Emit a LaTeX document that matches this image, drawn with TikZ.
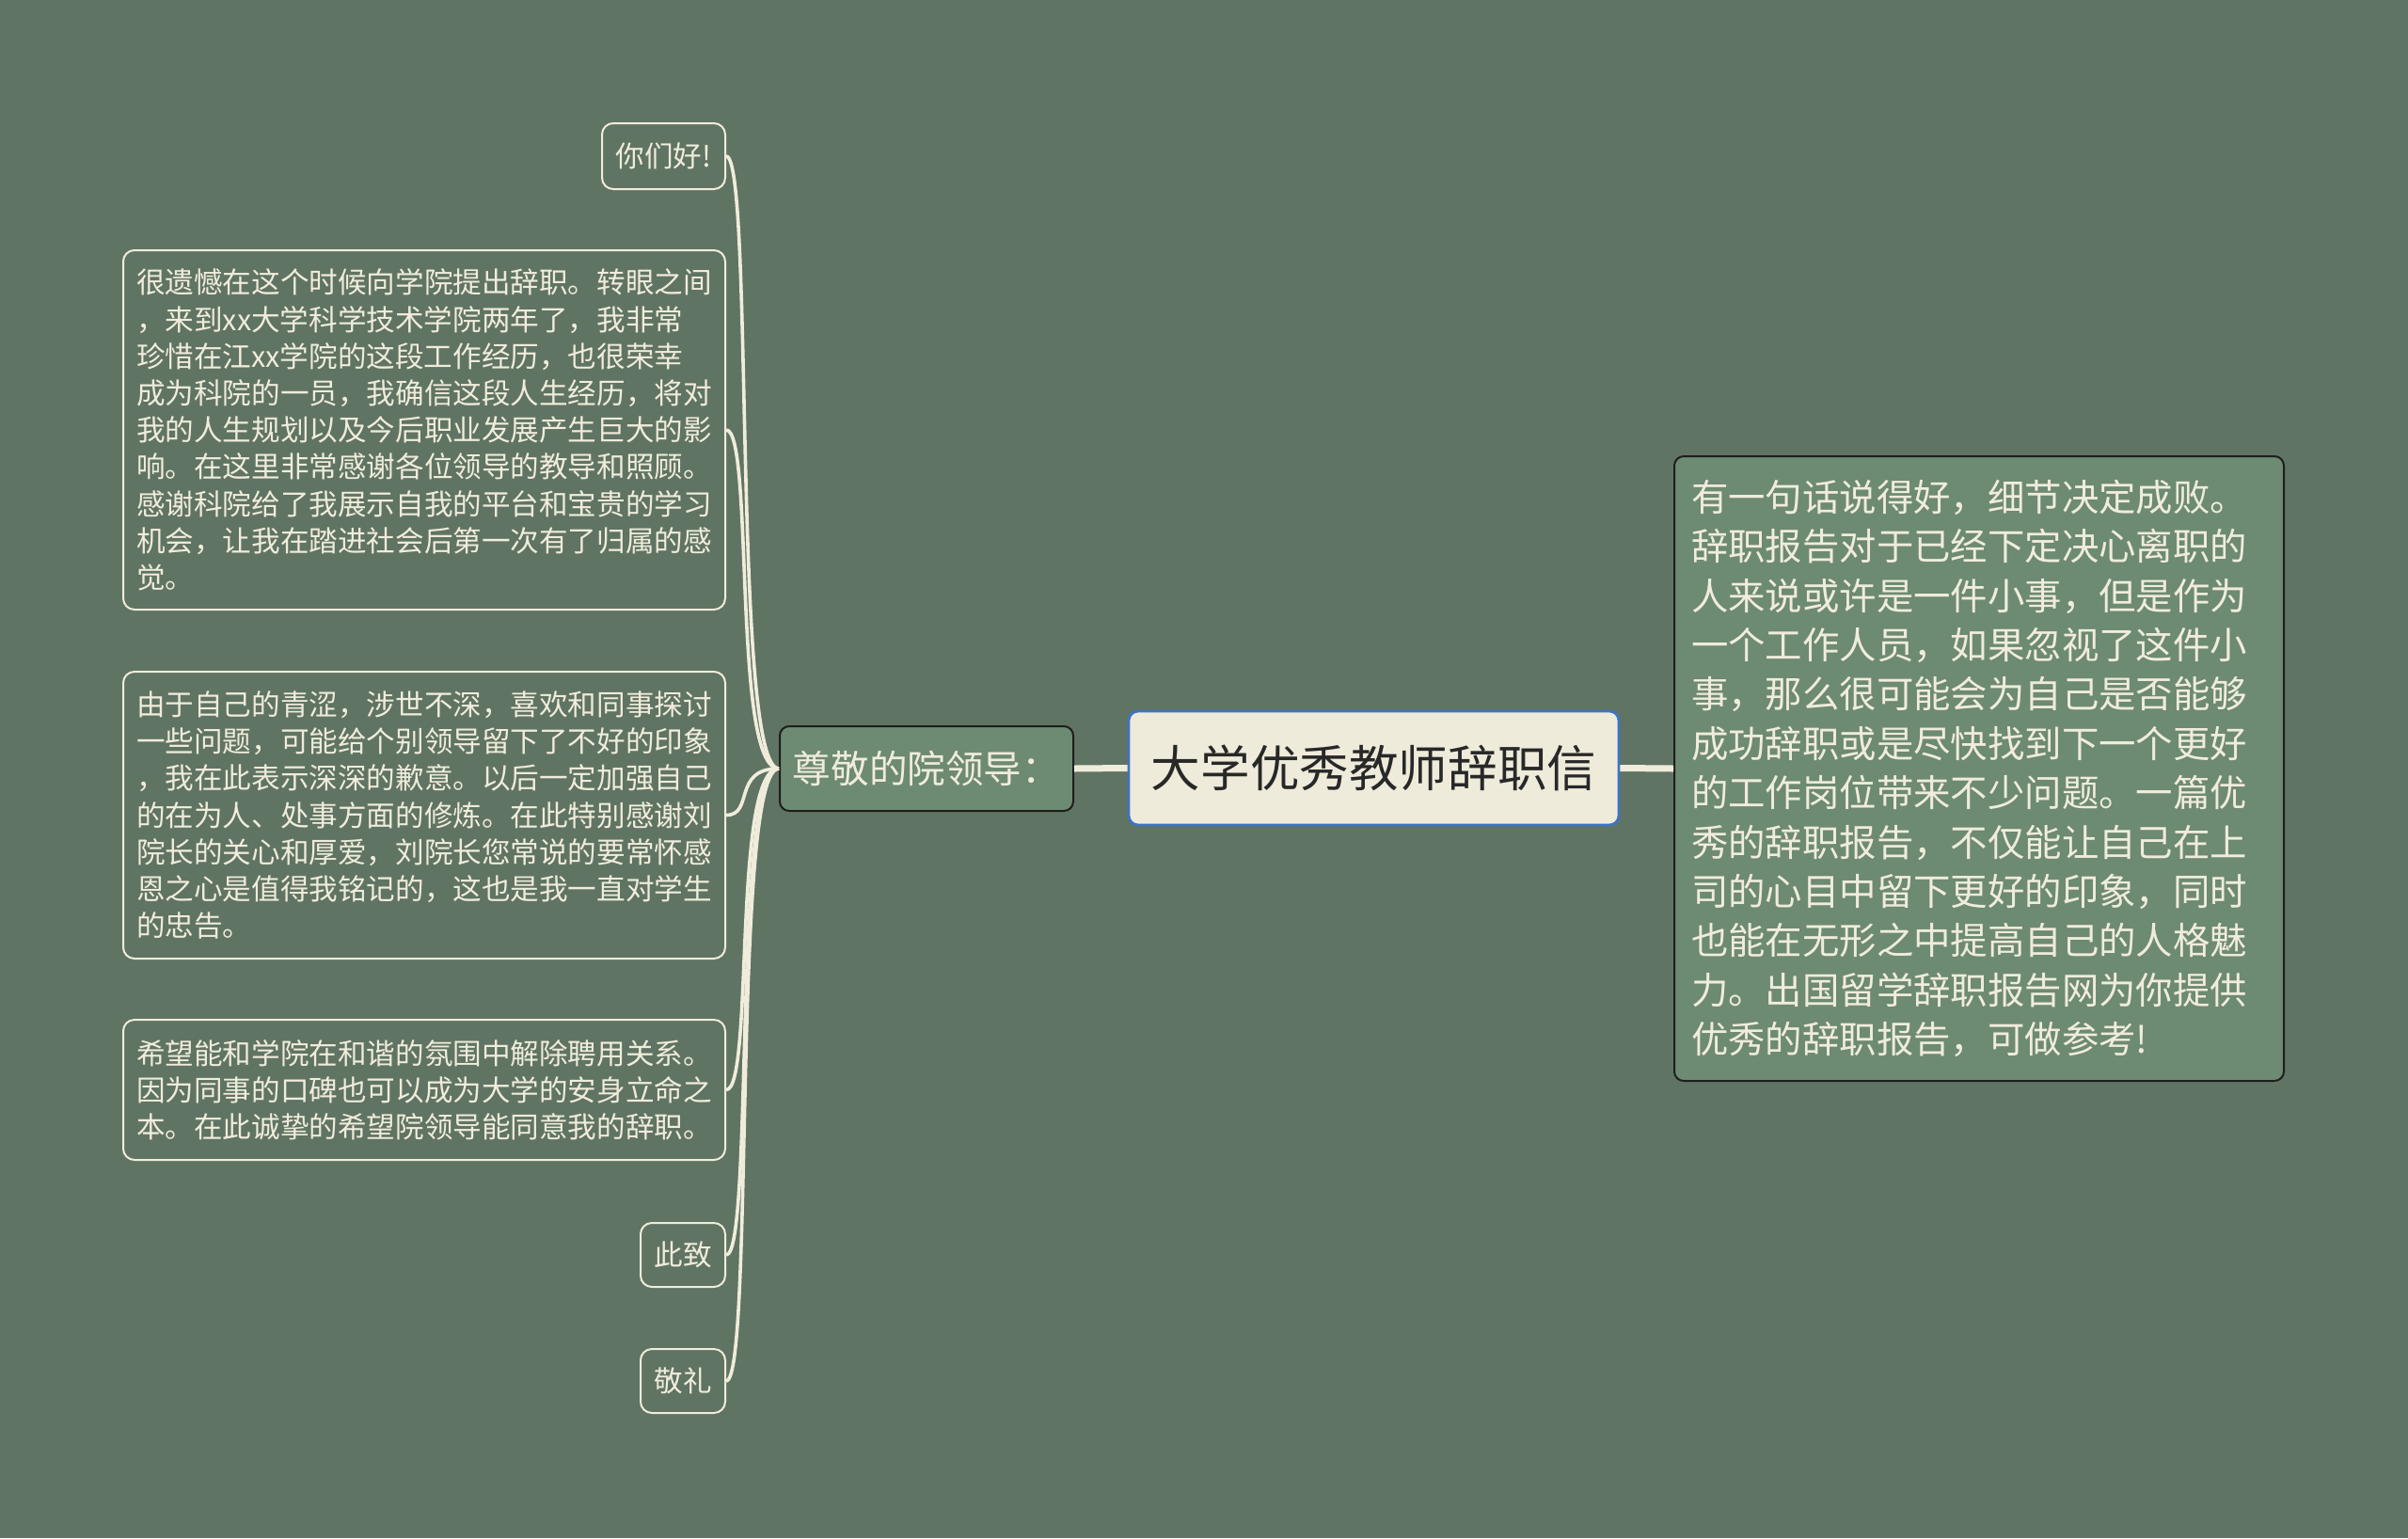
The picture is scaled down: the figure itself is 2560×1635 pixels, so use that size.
\documentclass[tikz,border=0pt]{standalone}
\usepackage{fontspec}
\setmainfont{Noto Sans CJK SC}
\definecolor{bgc}{RGB}{96,116,99}
\definecolor{subfill}{RGB}{109,138,114}
\definecolor{cream}{RGB}{240,236,220}
\definecolor{rootfill}{RGB}{239,235,219}
\definecolor{rootborder}{RGB}{63,116,196}
\definecolor{darkline}{RGB}{30,30,30}
\definecolor{roottext}{RGB}{40,40,40}
\begin{document}
\begin{tikzpicture}[x=0.5pt,y=-0.5pt,
  leafbox/.style={draw=cream, line width=1pt, rounded corners=6pt, text=cream,
    font=\fontsize{15.3}{19.6}\selectfont, inner sep=0pt},
  textbox/.style={leafbox, align=left, text width=306pt, inner xsep=7pt},
  subbox/.style={draw=darkline, fill=subfill, line width=1pt, rounded corners=5pt, text=cream, inner sep=0pt},
  rootbox/.style={draw=rootborder, fill=rootfill, line width=1.4pt, rounded corners=5pt, text=roottext,
    font=\fontsize{26.3}{30}\selectfont, inner sep=0pt, minimum width=260.5pt, minimum height=60.5pt},
  branch/.style={draw=cream, line width=1.8pt},
  trunk/.style={draw=cream, line width=3.5pt}
]
\fill[bgc] (0,0) rectangle (2560,1635);
\useasboundingbox (0,0) rectangle (2560,1635);

\node[rootbox] (root) at (1460.5,816.5) {大学优秀教师辞职信};
\node[subbox, font=\fontsize{20.3}{24}\selectfont, minimum width=156pt, minimum height=45pt] (lead) at (985,817) {尊敬的院领导：};
\node[subbox, font=\fontsize{19.7}{26.2}\selectfont, align=left, text width=306pt, inner xsep=9pt, minimum height=332pt] (right) at (2104,817) {有一句话说得好，细节决定成败。\\辞职报告对于已经下定决心离职的\\人来说或许是一件小事，但是作为\\一个工作人员，如果忽视了这件小\\事，那么很可能会为自己是否能够\\成功辞职或是尽快找到下一个更好\\的工作岗位带来不少问题。一篇优\\秀的辞职报告，不仅能让自己在上\\司的心目中留下更好的印象，同时\\也能在无形之中提高自己的人格魅\\力。出国留学辞职报告网为你提供\\优秀的辞职报告，可做参考!};

\node[leafbox, minimum width=65.5pt, minimum height=35pt] (hello) at (705.5,166) {你们好!};
\node[textbox, minimum height=191pt] (b2) at (451,457) {很遗憾在这个时候向学院提出辞职。转眼之间\\，来到xx大学科学技术学院两年了，我非常\\珍惜在江xx学院的这段工作经历，也很荣幸\\成为科院的一员，我确信这段人生经历，将对\\我的人生规划以及今后职业发展产生巨大的影\\响。在这里非常感谢各位领导的教导和照顾。\\感谢科院给了我展示自我的平台和宝贵的学习\\机会，让我在踏进社会后第一次有了归属的感\\觉。};
\node[textbox, minimum height=152.5pt] (b3) at (451,866.5) {由于自己的青涩，涉世不深，喜欢和同事探讨\\一些问题，可能给个别领导留下了不好的印象\\，我在此表示深深的歉意。以后一定加强自己\\的在为人、处事方面的修炼。在此特别感谢刘\\院长的关心和厚爱，刘院长您常说的要常怀感\\恩之心是值得我铭记的，这也是我一直对学生\\的忠告。};
\node[textbox, minimum height=74.5pt] (b4) at (451,1158.5) {希望能和学院在和谐的氛围中解除聘用关系。\\因为同事的口碑也可以成为大学的安身立命之\\本。在此诚挚的希望院领导能同意我的辞职。};
\node[leafbox, minimum width=45pt, minimum height=34pt] (cizhi) at (726,1334) {此致};
\node[leafbox, minimum width=45pt, minimum height=34pt] (jingli) at (726,1468) {敬礼};

\draw[trunk] (root.west) -- (lead.east);
\draw[trunk] (root.east) -- (right.west);

\foreach \c in {hello,b2,b3,b4,cizhi,jingli}{
  \draw[branch] (lead.west) .. controls +(-50,0) and +(30,0) .. (\c.east);
}
\end{tikzpicture}
\end{document}
